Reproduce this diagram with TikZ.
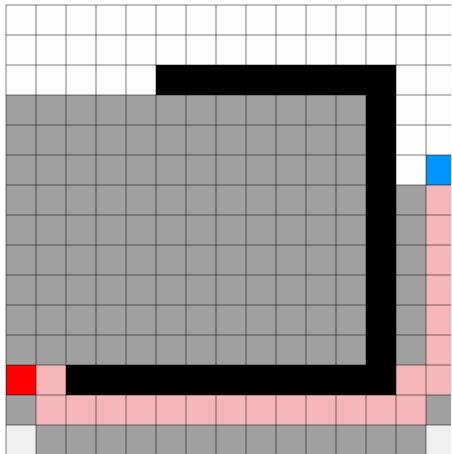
\documentclass[tikz,border=0pt]{standalone}
\definecolor{cgray}{HTML}{A0A0A0}
\definecolor{cpink}{HTML}{F4B6B6}
\definecolor{cred}{HTML}{FF0000}
\definecolor{cblue}{HTML}{0094FF}
\definecolor{clight}{HTML}{F0F0F0}
\definecolor{cwhite}{HTML}{FDFDFD}
\newcommand\blk[5]{\fill[#1] ({6+30*#2},{5+30*#3}) rectangle ({36+30*#4},{35+30*#5});}
\tikzset{gridline/.style={draw=black, draw opacity=0.25, line width=1.4pt}}
\begin{document}
\begin{tikzpicture}[x=1pt,y=-1pt]
\useasboundingbox (0,0) rectangle (451,454);
\clip (0,0) rectangle (451,454);
\fill[white] (0,0) rectangle (451,454);
% white area
\blk{cwhite}{0}{0}{14}{5}
% gray
\blk{cgray}{0}{3}{11}{11}
\blk{cgray}{13}{6}{13}{11}
\blk{cgray}{0}{13}{0}{13}
\blk{cgray}{14}{13}{14}{13}
\blk{cgray}{1}{14}{13}{14}
% black
\blk{black}{5}{2}{12}{2}
\blk{black}{12}{3}{12}{11}
\blk{black}{2}{12}{12}{12}
% blue
\blk{cblue}{14}{5}{14}{5}
% pink
\blk{cpink}{14}{6}{14}{12}
\blk{cpink}{1}{12}{1}{12}
\blk{cpink}{13}{12}{13}{12}
\blk{cpink}{1}{13}{13}{13}
% red
\blk{cred}{0}{12}{0}{12}
% light
\blk{clight}{0}{14}{0}{14}
\blk{clight}{14}{14}{14}{14}
% grid
\foreach \i in {0,...,15} {
  \draw[gridline] ({6+30*\i},5) -- ({6+30*\i},455);
  \draw[gridline] (6,{5+30*\i}) -- (456,{5+30*\i});
}
\end{tikzpicture}
\end{document}
